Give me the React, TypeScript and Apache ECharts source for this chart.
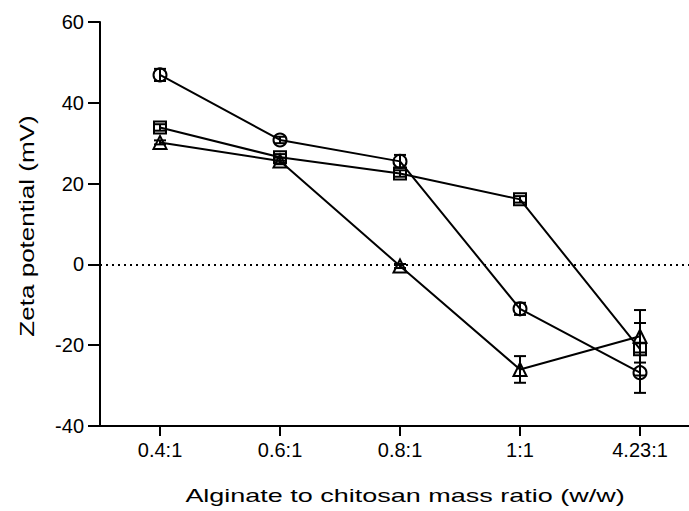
import React, { useEffect, useRef } from "react";
import * as echarts from "echarts";

const categories = ["0.4:1", "0.6:1", "0.8:1", "1:1", "4.23:1"];
const circleValues = [46.9, 30.8, 25.5, -11, -26.8];
const circleErrors = [1.5, 0.8, 1.6, 1.5, 5];
const squareValues = [33.9, 26.5, 22.5, 16.1, -21];
const squareErrors = [0.8, 0.8, 0.8, 0.8, 6.5];
const triangleValues = [30.2, 25.6, -0.4, -26, -17.8];
const triangleErrors = [0.5, 0.8, 0.5, 3.3, 6.5];
const yTicks = { min: -40, max: 60, interval: 20 };
const xTitle = "Alginate to chitosan mass ratio (w/w)";
const yTitle = "Zeta potential (mV)";

const FONT = "Liberation Sans, Arial, sans-serif";

function errorSeries(name: string, values: number[], errors: number[]) {
  const data = values.map((v, i) => [i, v - errors[i], v + errors[i]]);
  return {
    type: "custom",
    name,
    z: 5,
    silent: true,
    renderItem: (params: any, api: any) => {
      const x = api.value(0);
      const lo = api.coord([x, api.value(1)]);
      const hi = api.coord([x, api.value(2)]);
      const cap = 6;
      const style = { stroke: "#000", lineWidth: 2 };
      return {
        type: "group",
        children: [
          { type: "line", shape: { x1: lo[0], y1: lo[1], x2: hi[0], y2: hi[1] }, style },
          { type: "line", shape: { x1: lo[0] - cap, y1: lo[1], x2: lo[0] + cap, y2: lo[1] }, style },
          { type: "line", shape: { x1: hi[0] - cap, y1: hi[1], x2: hi[0] + cap, y2: hi[1] }, style },
        ],
      };
    },
    data,
  };
}

function lineSeries(name: string, values: number[], symbol: string, size: number, extra: any = {}) {
  return {
    type: "line",
    name,
    data: values,
    symbol,
    symbolSize: size,
    showAllSymbol: true,
    z: 4,
    lineStyle: { color: "#000", width: 2 },
    itemStyle: { color: "rgba(255,255,255,0)", borderColor: "#000", borderWidth: 2 },
    ...extra,
  };
}

export default function App() {
  const ref = useRef<HTMLDivElement>(null);
  useEffect(() => {
    document.body.style.margin = "0";
    const chart = echarts.init(ref.current!, null, { renderer: "svg" });
    chart.setOption({
      animation: false,
      backgroundColor: "#fff",
      grid: { left: 100, top: 22, width: 600, height: 404, containLabel: false, outerBoundsMode: "none" },
      xAxis: {
        type: "category",
        position: "bottom",
        data: categories,
        boundaryGap: true,
        axisLine: { show: true, onZero: false, lineStyle: { color: "#000", width: 2 } },
        axisTick: { show: true, alignWithLabel: true, length: 10, lineStyle: { color: "#000", width: 2 } },
        axisLabel: { fontFamily: FONT, fontSize: 20, color: "#000", margin: 14 },
        splitLine: { show: false },
      },
      yAxis: {
        type: "value",
        position: "left",
        min: yTicks.min,
        max: yTicks.max,
        interval: yTicks.interval,
        axisLine: { show: true, onZero: false, lineStyle: { color: "#000", width: 2 } },
        axisTick: { show: true, length: 12, lineStyle: { color: "#000", width: 2 } },
        axisLabel: { fontFamily: FONT, fontSize: 20, color: "#000", margin: 16 },
        splitLine: { show: false },
      },
      graphic: [
        {
          type: "text",
          x: 405,
          y: 495,
          scaleX: 1.42,
          style: {
            text: xTitle,
            fontFamily: FONT,
            fontSize: 19,
            fill: "#000",
            align: "center",
            verticalAlign: "middle",
          },
        },
        {
          type: "text",
          x: 27,
          y: 226,
          rotation: Math.PI / 2,
          scaleX: 1.24,
          style: {
            text: yTitle,
            fontFamily: FONT,
            fontSize: 21,
            fill: "#000",
            align: "center",
            verticalAlign: "middle",
          },
        },
      ],
      series: [
        lineSeries("circle", circleValues, "circle", 13, {
          markLine: {
            silent: true,
            symbol: "none",
            label: { show: false },
            emphasis: { disabled: true },
            lineStyle: { color: "#000", width: 2, type: [2, 4] },
            data: [{ yAxis: 0 }],
          },
        }),
        lineSeries("square", squareValues, "rect", 12),
        lineSeries("triangle", triangleValues, "triangle", 13),
        errorSeries("circleErr", circleValues, circleErrors),
        errorSeries("squareErr", squareValues, squareErrors),
        errorSeries("triangleErr", triangleValues, triangleErrors),
      ],
    });
    return () => chart.dispose();
  }, []);
  return <div ref={ref} style={{ width: 689, height: 511 }} />;
}
